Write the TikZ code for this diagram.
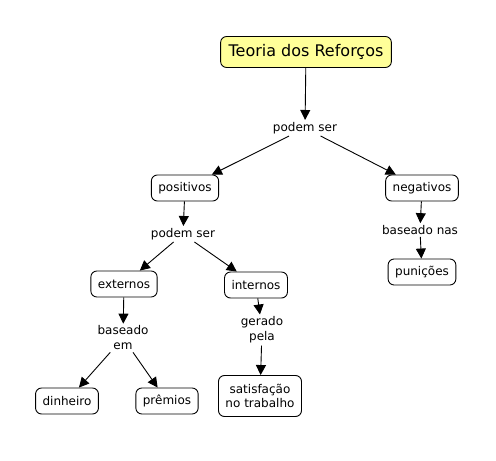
\documentclass[tikz,border=0pt]{standalone}
\usepackage{fontspec}
\setmainfont{DejaVu Sans}
\usetikzlibrary{arrows.meta}
\begin{document}
\begin{tikzpicture}[x=1pt,y=-1pt,
  concept/.style={draw=black,line width=0.9pt,rounded corners=6pt,fill=white,font=\fontsize{12}{14}\selectfont,inner xsep=7pt,minimum height=26pt,align=center},
  linkph/.style={font=\fontsize{12}{15}\selectfont,inner sep=2pt,align=center},
  conn/.style={line width=0.9pt,-{Triangle[length=10pt,width=10pt]}}]
\useasboundingbox (0,0) rectangle (496,461);
\node[concept,fill={rgb,255:red,255;green,255;blue,153},font=\fontsize{16}{19}\selectfont,minimum height=31pt,inner xsep=8pt] (teoria) at (306,52) {Teoria dos Reforços};
\node[linkph] (ps1) at (305,128) {podem ser};
\node[concept] (pos) at (185,188) {positivos};
\node[concept] (neg) at (422,188) {negativos};
\node[linkph] (ps2) at (183,234) {podem ser};
\node[linkph] (bn) at (420,230) {baseado nas};
\node[concept] (pun) at (422,272) {punições};
\node[concept] (ext) at (124,284) {externos};
\node[concept] (int) at (256,285) {internos};
\node[linkph] (be) at (123,338) {baseado\\em};
\node[linkph] (gp) at (262,330) {gerado\\pela};
\node[concept] (din) at (67,401) {dinheiro};
\node[concept] (pre) at (167,401) {prêmios};
\node[concept,minimum height=41pt] (sat) at (260,396) {satisfação\\no trabalho};
\draw[conn] (teoria) -- (ps1);
\draw[conn] (ps1) -- (pos);
\draw[conn] (ps1) -- (neg);
\draw[conn] (pos) -- (ps2);
\draw[conn] (ps2) -- (ext);
\draw[conn] (ps2) -- (int);
\draw[conn] (neg) -- (bn);
\draw[conn] (bn) -- (pun);
\draw[conn] (ext) -- (be);
\draw[conn] (be) -- (din);
\draw[conn] (be) -- (pre);
\draw[conn] (int) -- (gp);
\draw[conn] (gp) -- (sat);
\end{tikzpicture}
\end{document}
